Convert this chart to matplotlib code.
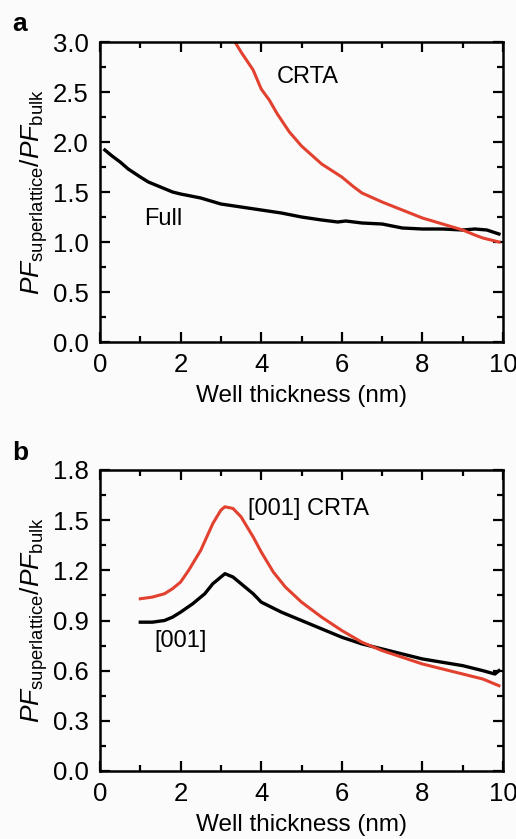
import matplotlib
matplotlib.use("Agg")
import matplotlib.pyplot as plt
from matplotlib.ticker import MultipleLocator

plt.rcParams['font.family'] = ['Liberation Sans', 'DejaVu Sans']
plt.rcParams['mathtext.fontset'] = 'custom'
plt.rcParams['mathtext.rm'] = 'Liberation Sans'
plt.rcParams['mathtext.it'] = 'Liberation Sans:italic'

# panel a: power factor ratio vs well thickness
a_full_x = [0.12, 0.3, 0.5, 0.7, 1.0, 1.2, 1.5, 1.8, 2.0, 2.5, 3.0, 3.5, 4.0, 4.5, 5.0,
            5.5, 5.9, 6.1, 6.5, 7.0, 7.5, 8.0, 8.5, 9.0, 9.3, 9.6, 9.9]
a_full_y = [1.92, 1.86, 1.80, 1.73, 1.65, 1.60, 1.55, 1.50, 1.48, 1.44, 1.38, 1.35, 1.32, 1.29, 1.25,
            1.22, 1.20, 1.21, 1.19, 1.18, 1.14, 1.13, 1.13, 1.12, 1.13, 1.12, 1.08]
a_crta_x = [3.35, 3.5, 3.8, 4.0, 4.2, 4.4, 4.7, 5.0, 5.5, 6.0, 6.3, 6.5, 7.0, 7.5, 8.0,
            8.5, 9.0, 9.3, 9.5, 9.9]
a_crta_y = [3.0, 2.90, 2.72, 2.53, 2.42, 2.28, 2.10, 1.96, 1.78, 1.65, 1.55, 1.49, 1.40, 1.32, 1.24,
            1.18, 1.12, 1.07, 1.04, 1.00]

# panel b: [001] direction
b_full_x = [1.0, 1.3, 1.6, 1.8, 2.0, 2.3, 2.6, 2.8, 3.0, 3.1, 3.3, 3.5, 3.8, 4.0, 4.5, 5.0,
            5.5, 6.0, 6.5, 7.0, 7.5, 8.0, 8.5, 9.0, 9.5, 9.8, 9.9]
b_full_y = [0.89, 0.89, 0.90, 0.92, 0.95, 1.00, 1.06, 1.12, 1.16, 1.18, 1.16, 1.12, 1.06, 1.01, 0.95, 0.90,
            0.85, 0.80, 0.76, 0.73, 0.70, 0.67, 0.65, 0.63, 0.60, 0.58, 0.60]
b_crta_x = [1.0, 1.3, 1.6, 1.8, 2.0, 2.2, 2.5, 2.8, 3.0, 3.1, 3.3, 3.5, 3.8, 4.0, 4.3, 4.6, 5.0,
            5.5, 6.0, 6.5, 7.0, 7.5, 8.0, 8.5, 9.0, 9.5, 9.9]
b_crta_y = [1.03, 1.04, 1.06, 1.09, 1.13, 1.20, 1.32, 1.48, 1.56, 1.58, 1.57, 1.52, 1.40, 1.31, 1.19, 1.10, 1.01,
            0.92, 0.84, 0.77, 0.72, 0.68, 0.64, 0.61, 0.58, 0.55, 0.51]

RED = '#e2412f'
ylabel = r'$\mathit{PF}_{\mathrm{superlattice}}/\mathit{PF}_{\mathrm{bulk}}$'

fig = plt.figure(figsize=(5.16, 8.39), dpi=100)
fig.patch.set_facecolor('#fbfbfb')
ax_a = fig.add_axes([100 / 516, 1 - 342 / 839, 403 / 516, 300 / 839])
ax_b = fig.add_axes([100 / 516, 1 - 771 / 839, 403 / 516, 301 / 839])


def style(ax, ymax, ymaj):
    ax.set_facecolor('#fbfbfb')
    ax.set_xlim(0, 10)
    ax.set_ylim(0, ymax)
    ax.xaxis.set_major_locator(MultipleLocator(2))
    ax.xaxis.set_minor_locator(MultipleLocator(1))
    ax.yaxis.set_major_locator(MultipleLocator(ymaj))
    ax.yaxis.set_minor_locator(MultipleLocator(ymaj / 2))
    ax.yaxis.set_major_formatter(plt.FormatStrFormatter('%.1f'))
    ax.tick_params(which='both', direction='in', top=True, right=True, width=1.6)
    ax.tick_params(which='major', length=7, labelsize=18.5, pad=8)
    ax.tick_params(which='minor', length=4)
    for s in ax.spines.values():
        s.set_linewidth(1.8)
    ax.set_xlabel('Well thickness (nm)', fontsize=17.5, labelpad=6)
    ax.set_ylabel(ylabel, fontsize=19, labelpad=2)


ax_a.plot(a_full_x, a_full_y, color='black', lw=2.4)
ax_a.plot(a_crta_x, a_crta_y, color=RED, lw=2.2)
style(ax_a, 3.0, 0.5)
ax_a.text(4.39, 2.59, 'CRTA', fontsize=17)
ax_a.text(1.09, 1.17, 'Full', fontsize=17)

ax_b.plot(b_full_x, b_full_y, color='black', lw=2.4)
ax_b.plot(b_crta_x, b_crta_y, color=RED, lw=2.2)
style(ax_b, 1.8, 0.3)
ax_b.text(3.68, 1.53, '[001] CRTA', fontsize=17)
ax_b.text(1.36, 0.74, '[001]', fontsize=17)

fig.text(12 / 516, 1 - 24 / 839, 'a', fontsize=19, fontweight='bold', va='center')
fig.text(12 / 516, 1 - 453 / 839, 'b', fontsize=19, fontweight='bold', va='center')

fig.savefig('out.png', dpi=100, facecolor=fig.get_facecolor())
